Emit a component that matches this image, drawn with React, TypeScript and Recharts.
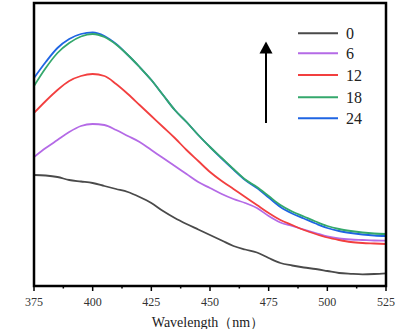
import { LineChart, Line, XAxis, YAxis, Legend } from 'recharts';

const wavelengths = [
  375, 380, 385, 390, 395, 400, 405, 410, 415, 420, 425, 430, 435, 440, 445, 450,
  455, 460, 465, 470, 475, 480, 485, 490, 495, 500, 505, 510, 515, 520, 525,
];

const t0 = [
  111, 110.5, 109, 106, 104.5, 103, 100, 97, 94, 89, 83, 75, 68, 62, 56.5, 51,
  45.5, 40, 36.5, 33.5, 28, 23, 20.5, 18.5, 17, 15, 13, 12.2, 11.7, 12, 12.7,
];
const t6 = [
  129, 138, 146, 154, 160, 162, 161, 156, 150, 144, 136, 128, 120, 112, 104, 98,
  92, 87, 83, 78, 70, 63.5, 60, 56.5, 53, 49.5, 47.5, 46.5, 46, 45.5, 45.3,
];
const t12 = [
  173, 185, 196, 205, 210, 212, 210, 202, 192, 181, 170, 159, 148, 136, 125, 114,
  105, 97, 89, 81, 73, 66, 61, 56, 52, 48.5, 46, 44, 43, 42.5, 42,
];
const t18 = [
  200, 218, 233, 243, 249.5, 252, 249, 241.5, 231, 219, 206, 191, 176, 164, 151, 139,
  128, 117, 106.5, 99, 90, 81, 74.5, 69.5, 64.5, 60, 57, 55, 53.5, 52.5, 52,
];
const t24 = [
  208, 224, 238, 247, 252, 253.5, 250, 242, 231, 219, 206, 191, 176, 164, 151, 139,
  127.5, 116.5, 106, 98, 88.5, 79, 72.5, 67.5, 62.5, 58, 55, 53, 51.5, 50.5, 50,
];

const xTicks = [375, 387.5, 400, 412.5, 425, 437.5, 450, 462.5, 475, 487.5, 500, 512.5, 525];

const series = [
  { key: 't0', name: '0', color: '#4a4a4a', values: t0 },
  { key: 't6', name: '6', color: '#b46ae6', values: t6 },
  { key: 't12', name: '12', color: '#f23f3f', values: t12 },
  { key: 't24', name: '24', color: '#1f65e3', values: t24 },
  { key: 't18', name: '18', color: '#34a86c', values: t18 },
];
const legendOrder = ['t0', 't6', 't12', 't18', 't24'];

const data = wavelengths.map((w, i) => {
  const row: Record<string, number> = { w };
  series.forEach((s) => (row[s.key] = s.values[i]));
  return row;
});

const font = '"Liberation Serif", "DejaVu Serif", serif';

const XTick = (props: any) => {
  const { x, y, payload } = props;
  const major = payload.value % 25 === 0;
  return (
    <g>
      <line x1={x} x2={x} y1={y} y2={y + (major ? 5 : 2.5)} stroke="#000" strokeWidth={1.5} />
      {major && (
        <text x={x} y={y + 20} textAnchor="middle" fontSize={12} fontFamily={font} fill="#333">
          {payload.value}
        </text>
      )}
    </g>
  );
};

// overlay: plot frame, arrow and the legend entries
const LegendBox = () => {
  const rowY = [33.3, 53.3, 75, 97.3, 118.3];
  return (
    <svg width={395} height={329}>
      <rect x={34} y={3} width={352} height={283} fill="none" stroke="#000" strokeWidth={2.5} />
      <line x1={266} x2={266} y1={123} y2={50} stroke="#000" strokeWidth={2} />
      <polygon points="266,41.5 259.5,53.5 272.5,53.5" fill="#000" />
      {legendOrder.map((k, i) => {
        const s = series.find((d) => d.key === k)!;
        return (
          <g key={k}>
            <line x1={298} x2={338} y1={rowY[i]} y2={rowY[i]} stroke={s.color} strokeWidth={2} />
            <text x={346} y={rowY[i]} dominantBaseline="central" fontSize={16} fontFamily={font} fill="#222">
              {s.name}
            </text>
          </g>
        );
      })}
    </svg>
  );
};

const axisStyle = { stroke: '#000', strokeWidth: 2 };

export default function App() {
  return (
    <div style={{ position: 'absolute', left: 0, top: 0 }}>
      <LineChart width={395} height={329} data={data} margin={{ top: 2, right: 9, left: 34, bottom: 0 }}>
        <XAxis
          dataKey="w"
          type="number"
          domain={[375, 525]}
          ticks={xTicks}
          interval={0}
          height={43}
          tickSize={0}
          tickMargin={0}
          tickLine={false}
          tick={<XTick />}
          axisLine={axisStyle}
          label={{
            content: () => (
              <text x={208} y={322} textAnchor="middle" dominantBaseline="central" fontSize={14} fontFamily={font} fill="#222">
                Wavelength（nm）
              </text>
            ),
          }}
        />
        <YAxis
          type="number"
          domain={[0, 284]}
          width={0}
          tick={false}
          tickLine={false}
          axisLine={axisStyle}
          label={{
            content: () => (
              <text
                x={17}
                y={137}
                textAnchor="middle"
                dominantBaseline="central"
                fontSize={13}
                fontFamily={font}
                fill="#222"
                transform="rotate(-90 17 137)"
              >
                Fluorescence Intensity（a.u.）
              </text>
            ),
          }}
        />
        {series.map((s) => (
          <Line
            key={s.key}
            dataKey={s.key}
            name={s.name}
            type="monotone"
            stroke={s.color}
            strokeWidth={1.8}
            dot={false}
            isAnimationActive={false}
          />
        ))}
        <Legend
          layout="vertical"
          align="center"
          verticalAlign="middle"
          content={<LegendBox />}
          wrapperStyle={{ position: 'absolute', left: 0, top: 0, width: 395, height: 329, pointerEvents: 'none' }}
        />
      </LineChart>
    </div>
  );
}
